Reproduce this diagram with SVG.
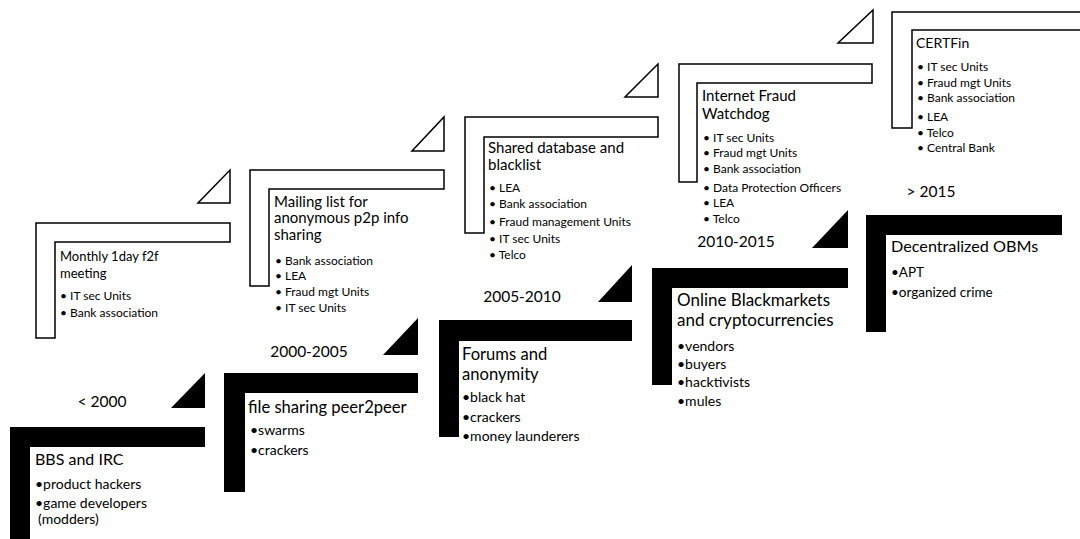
<svg xmlns="http://www.w3.org/2000/svg" width="1080" height="539" viewBox="0 0 1080 539">
<style>
  .blk{fill:#000;}
  .wht{fill:#fff;stroke:#000;stroke-width:1.5;stroke-linejoin:miter;}
  text{font-family:Lato,"Open Sans","Liberation Sans",sans-serif;fill:#000;}
  .tb{font-size:16.6px;}
  .bb{font-size:14px;}
  .tt{font-size:15px;}
  .bt{font-size:12px;}
  .yr{font-size:15.5px;text-anchor:middle;}
</style>
<rect width="1080" height="539" fill="#fff"/>

<g id="connectors">
  <polygon class="wht" points="230,170 230,203 198,203"/>
  <polygon class="wht" points="444,117 444,151 412,151"/>
  <polygon class="wht" points="658,64 658,97 625,97"/>
  <polygon class="wht" points="873,10 873,43 838,43"/>
  <polygon class="blk" points="205,373 205,408 171,408"/>
  <polygon class="blk" points="418,318 418,355 383,355"/>
  <polygon class="blk" points="632,265 632,302 598,302"/>
  <polygon class="blk" points="848,210 848,248 812,248"/>
</g>

<g id="era-lt2000">
  <text class="yr" x="102" y="407">&lt; 2000</text>
  <polygon class="blk" points="10,427 205,427 205,447 30,447 30,545 10,545"/>
  <text class="tb" style="font-size:16px" x="35" y="465">BBS and IRC</text>
  <text class="bb" x="35" y="489">•product hackers</text>
  <text class="bb" x="35" y="508">•game developers</text>
  <text class="bb" x="38" y="524">(modders)</text>
</g>

<g id="era-2000-2005">
  <text class="yr" x="309" y="357">2000-2005</text>
  <polygon class="blk" points="224,373 418,373 418,393 245,393 245,492 224,492"/>
  <text class="tb" x="248" y="413">file sharing peer2peer</text>
  <text class="bb" x="250" y="435">•swarms</text>
  <text class="bb" x="250" y="455">•crackers</text>
</g>

<g id="era-2005-2010">
  <text class="yr" x="522" y="302">2005-2010</text>
  <polygon class="blk" points="439,320 632,320 632,341 459,341 459,437 439,437"/>
  <text class="tb" x="462" y="360">Forums and</text>
  <text class="tb" x="462" y="380">anonymity</text>
  <text class="bb" x="462" y="402">•black hat</text>
  <text class="bb" x="462" y="422">•crackers</text>
  <text class="bb" x="462" y="441">•money launderers</text>
</g>

<g id="era-2010-2015">
  <text class="yr" x="736" y="247">2010-2015</text>
  <polygon class="blk" points="652,268 848,268 848,288 672,288 672,385 652,385"/>
  <text class="tb" style="font-size:17px" x="677" y="306">Online Blackmarkets</text>
  <text class="tb" style="font-size:17px" x="677" y="326">and cryptocurrencies</text>
  <text class="bb" x="677" y="351">•vendors</text>
  <text class="bb" x="677" y="369">•buyers</text>
  <text class="bb" x="677" y="387">•hacktivists</text>
  <text class="bb" x="677" y="406">•mules</text>
</g>

<g id="era-gt2015">
  <text class="yr" x="931" y="197">&gt; 2015</text>
  <polygon class="blk" points="866,215 1062,215 1062,235 886,235 886,332 866,332"/>
  <text class="tb" style="font-size:16.2px" x="891" y="252">Decentralized OBMs</text>
  <text class="bb" style="font-size:13.5px" x="891" y="277">•APT</text>
  <text class="bb" style="font-size:13.5px" x="891" y="297">•organized crime</text>
</g>

<g id="def-monthly">
  <polygon class="wht" points="36,223 230,223 230,242 55,242 55,338 36,338"/>
  <text class="tt" style="font-size:13px" x="60" y="261">Monthly 1day f2f</text>
  <text class="tt" style="font-size:13px" x="60" y="278">meeting</text>
  <text class="bt" x="60" y="300">• IT sec Units</text>
  <text class="bt" x="60" y="317">• Bank association</text>
</g>

<g id="def-mailing">
  <polygon class="wht" points="250,170 444,170 444,189 269,189 269,286 250,286"/>
  <text class="tt" x="274" y="207">Mailing list for</text>
  <text class="tt" x="274" y="223">anonymous p2p info</text>
  <text class="tt" x="274" y="240">sharing</text>
  <text class="bt" x="275" y="265">• Bank association</text>
  <text class="bt" x="275" y="280">• LEA</text>
  <text class="bt" x="275" y="296">• Fraud mgt Units</text>
  <text class="bt" x="275" y="312">• IT sec Units</text>
</g>

<g id="def-shared">
  <polygon class="wht" points="465,117 658,117 658,137 484,137 484,233 465,233"/>
  <text class="tt" x="488" y="153">Shared database and</text>
  <text class="tt" x="488" y="170">blacklist</text>
  <text class="bt" x="489" y="192">• LEA</text>
  <text class="bt" x="489" y="208">• Bank association</text>
  <text class="bt" x="489" y="226">• Fraud management Units</text>
  <text class="bt" x="489" y="243">• IT sec Units</text>
  <text class="bt" x="489" y="259">• Telco</text>
</g>

<g id="def-watchdog">
  <polygon class="wht" points="679,64 872,64 872,83 697,83 697,182 679,182"/>
  <text class="tt" x="702" y="101">Internet Fraud</text>
  <text class="tt" x="702" y="119">Watchdog</text>
  <text class="bt" x="703" y="142">• IT sec Units</text>
  <text class="bt" x="703" y="157">• Fraud mgt Units</text>
  <text class="bt" x="703" y="173">• Bank association</text>
  <text class="bt" x="703" y="192">• Data Protection Officers</text>
  <text class="bt" x="703" y="207">• LEA</text>
  <text class="bt" x="703" y="223">• Telco</text>
</g>

<g id="def-certfin">
  <polygon class="wht" points="892,12 1090,12 1090,30 912,30 912,128 892,128"/>
  <text class="tt" style="font-size:14px" x="916" y="48">CERTFin</text>
  <text class="bt" x="917" y="71">• IT sec Units</text>
  <text class="bt" x="917" y="87">• Fraud mgt Units</text>
  <text class="bt" x="917" y="102">• Bank association</text>
  <text class="bt" x="917" y="121">• LEA</text>
  <text class="bt" x="917" y="137">• Telco</text>
  <text class="bt" x="917" y="152">• Central Bank</text>
</g>
</svg>
